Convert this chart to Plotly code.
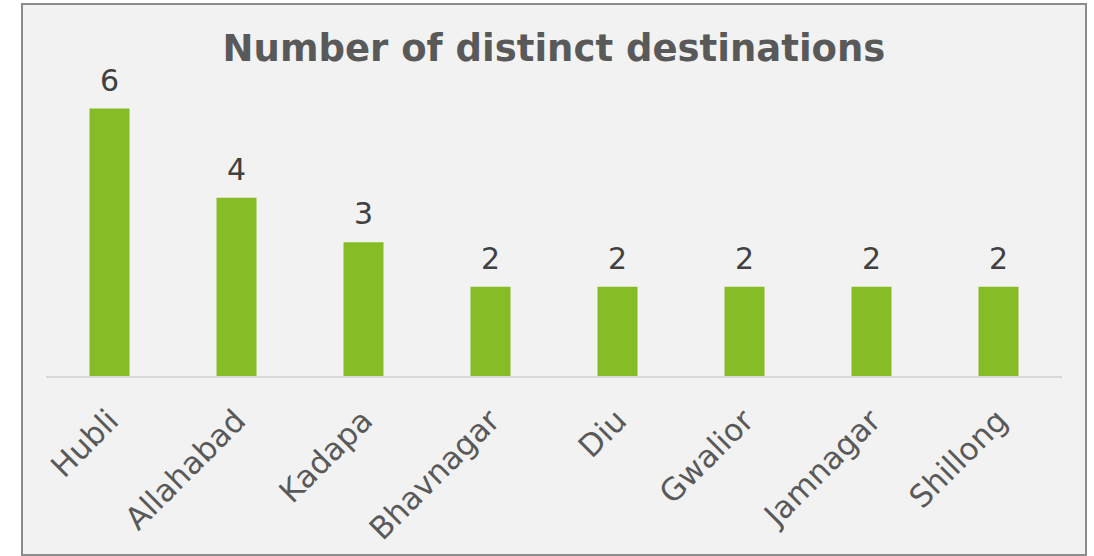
import plotly.graph_objects as go

categories = ["Hubli", "Allahabad", "Kadapa", "Bhavnagar", "Diu", "Gwalior", "Jamnagar", "Shillong"]
values = [6, 4, 3, 2, 2, 2, 2, 2]
title_text = "Number of distinct destinations"

W, H = 1094, 556
L, R, T, B = 46, 32, 64, 180
pw = W - L - R
ph = H - T - B

fig = go.Figure()
fig.add_trace(go.Bar(
    x=categories, y=values,
    marker=dict(color="#86bc25", line=dict(width=0)),
    width=0.315,
    hoverinfo="x+y",
))

for c, v in zip(categories, values):
    fig.add_annotation(x=c, y=v, xref="x", yref="y", text=str(v), showarrow=False,
                       yanchor="bottom", yshift=9,
                       font=dict(family="DejaVu Sans", size=30, color="#404040"))

# chart frame (pixel positions converted to paper coords)
x0 = (22 - L) / pw
x1 = (1086 - L) / pw
y1 = (H - B - 4) / ph
y0 = (H - B - 555) / ph
fig.add_shape(type="rect", xref="paper", yref="paper", x0=x0, x1=x1, y0=y0, y1=y1,
              fillcolor="#f2f2f2", line=dict(color="#8c8c8c", width=2), layer="below")

fig.update_layout(
    width=W, height=H,
    margin=dict(l=L, r=R, t=T, b=B, pad=0, autoexpand=False),
    paper_bgcolor="white",
    plot_bgcolor="rgba(0,0,0,0)",
    showlegend=False,
    title=dict(text="<b>" + title_text + "</b>", x=0.5, xref="paper", xanchor="center",
               y=1 - 48 / H, yanchor="middle",
               font=dict(family="DejaVu Sans", size=37, color="#595959")),
    xaxis=dict(tickangle=-45, tickfont=dict(family="DejaVu Sans", size=31, color="#595959"),
               ticklabelstandoff=12, automargin=False,
               showline=True, linecolor="#d9d9d9", linewidth=2, ticks="", showgrid=False),
    yaxis=dict(range=[0, 7], visible=False, showgrid=False, zeroline=False, automargin=False),
    bargap=0.685,
)

fig.write_html("out.html", config={"displayModeBar": False},
               post_script="document.body.style.margin='0';document.body.style.overflow='hidden';")
